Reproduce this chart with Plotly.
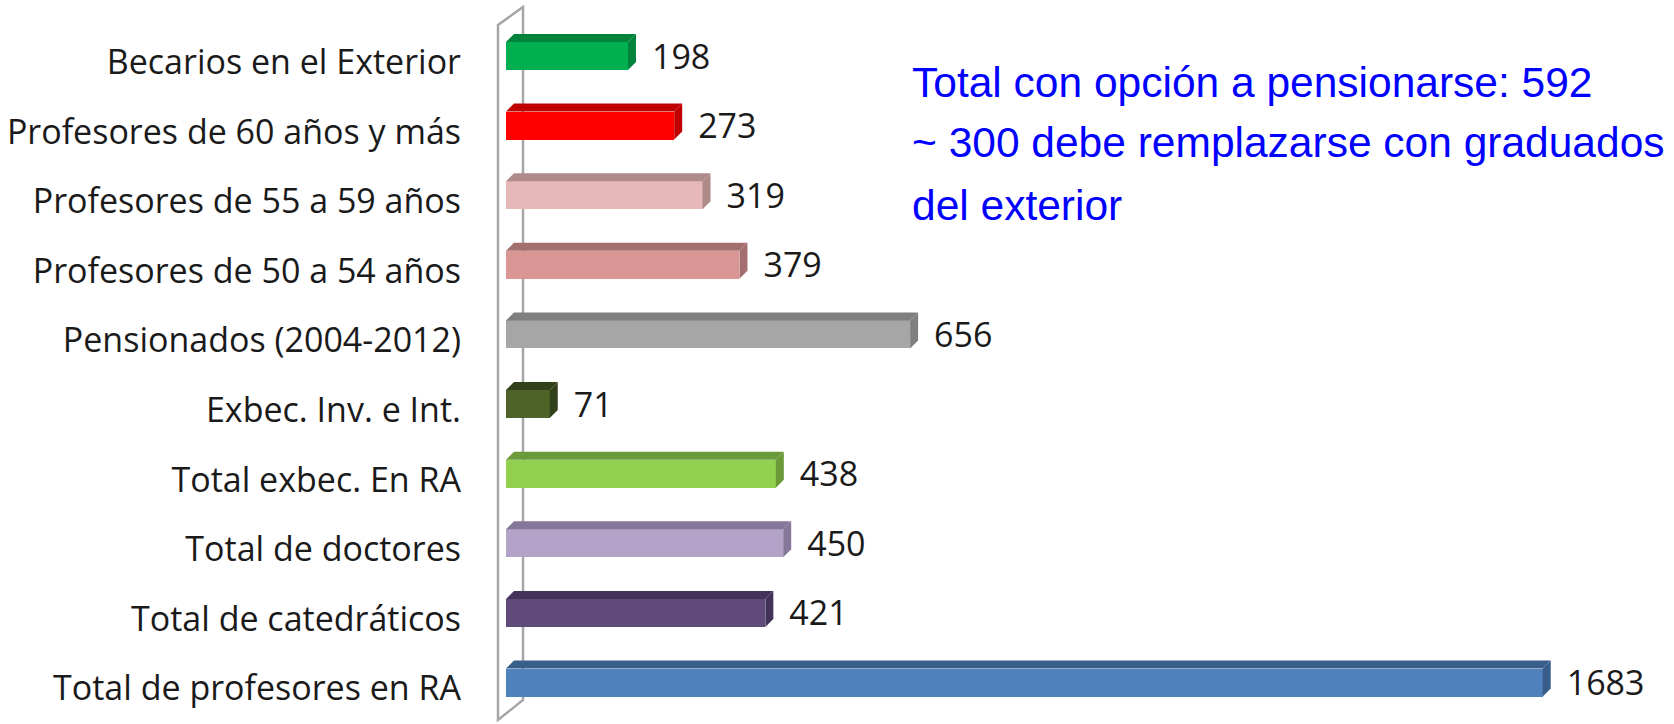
import plotly.graph_objects as go

# ---- data (bottom to top) ----
categories = [
    "Total de profesores en RA",
    "Total de catedráticos",
    "Total de doctores",
    "Total exbec. En RA",
    "Exbec. Inv. e Int.",
    "Pensionados (2004-2012)",
    "Profesores de 50 a 54 años",
    "Profesores de 55 a 59 años",
    "Profesores de 60 años y más",
    "Becarios en el Exterior",
]
values = [1683, 421, 450, 438, 71, 656, 379, 319, 273, 198]
front_colors = ["#4F81BD", "#604A7B", "#B3A2C7", "#92D050", "#4F6228",
                "#A6A6A6", "#D99694", "#E6B9B8", "#FF0000", "#00B050"]
dark_colors = ["#385D8A", "#43335A", "#847799", "#6B9A3B", "#33411A",
               "#7F7F7F", "#A36E6D", "#AE8A89", "#C00000", "#00843C"]
note_lines = [
    "Total con opción a pensionarse: 592",
    "~ 300 debe remplazarse con graduados",
    "del exterior",
]

W, H = 1674, 724
L = 506                      # pixel of x = 0
PXU = 0.616                  # pixels per unit on x
XMAX = (W - L) / PXU
YPX = 69.615                 # pixels per category
YMAX = 9 + 56 / YPX
YMIN = -(H - 682.5) / YPX
BAR_H = 28 / YPX
DX = 8 / PXU
DY = 8 / YPX

ypos = list(range(len(categories)))

fig = go.Figure()

def px2paper(px, py):
    return (px - L) / (W - L), (H - py) / H

# Back wall (axis wall)
pts = [(498, 25), (523, 7), (523, 700), (498, 720)]
pp = [px2paper(*p) for p in pts]
path = "M " + " L ".join(f"{a},{b}" for a, b in pp) + " Z"
fig.add_shape(type="path", path=path, xref="paper", yref="paper",
              line=dict(color="#A6A6A6", width=2.5), fillcolor="rgba(0,0,0,0)",
              layer="below")

# Front faces
fig.add_trace(go.Bar(
    x=values, y=ypos, orientation="h", width=BAR_H,
    marker=dict(color=front_colors, line=dict(width=0)),
    showlegend=False, hoverinfo="skip",
))

# Top and side faces
for v, y, dc in zip(values, ypos, dark_colors):
    t = y + BAR_H / 2
    b = y - BAR_H / 2
    fig.add_trace(go.Scatter(
        x=[0, v, v + DX, DX, 0], y=[t, t, t + DY, t + DY, t],
        mode="lines", fill="toself", fillcolor=dc, line=dict(width=0, color=dc),
        showlegend=False, hoverinfo="skip"))
    fig.add_trace(go.Scatter(
        x=[v, v + DX, v + DX, v, v], y=[b, b + DY, t + DY, t, b],
        mode="lines", fill="toself", fillcolor=dc, line=dict(width=0, color=dc),
        showlegend=False, hoverinfo="skip"))

# Value labels
fig.add_trace(go.Scatter(
    x=[v + DX + 16 / PXU for v in values], y=[y - 4 / YPX for y in ypos],
    mode="text", text=[str(v) for v in values], textposition="middle right",
    textfont=dict(family="Open Sans", size=34, color="#1A1A1A"),
    showlegend=False, hoverinfo="skip", cliponaxis=False))

# Blue note
note_y = [83, 143, 205]
for line, py in zip(note_lines, note_y):
    fig.add_annotation(
        x=(910 - L) / (W - L), y=(H - py) / H, xref="paper", yref="paper",
        xanchor="left", yanchor="middle", text=line, showarrow=False,
        font=dict(family="Liberation Sans, Arial", size=42.5, color="#0000FF"))

SHIFT = 6 / YPX
fig.update_layout(
    width=W, height=H,
    margin=dict(l=L, r=0, t=0, b=0, pad=0),
    paper_bgcolor="white", plot_bgcolor="white",
    bargap=0,
    xaxis=dict(range=[0, XMAX], visible=False, fixedrange=True),
    yaxis=dict(range=[YMIN, YMAX], showgrid=False, zeroline=False,
               showticklabels=False, showline=False, ticks=""),
    yaxis2=dict(range=[YMIN + SHIFT, YMAX + SHIFT], overlaying="y", side="left",
                anchor="x", showgrid=False, zeroline=False, showline=False,
                tickmode="array", tickvals=ypos, ticktext=categories,
                ticks="", ticklabelstandoff=44, automargin=False,
                tickfont=dict(family="Open Sans", size=34, color="#1A1A1A")),
    showlegend=False,
)
# dummy trace to activate yaxis2
fig.add_trace(go.Scatter(x=[None], y=[None], yaxis="y2", showlegend=False,
                         hoverinfo="skip"))

fig.write_html("out.html",
               config={"displayModeBar": False},
               post_script="document.body.style.margin='0';"
                           "document.body.style.overflow='hidden';")
